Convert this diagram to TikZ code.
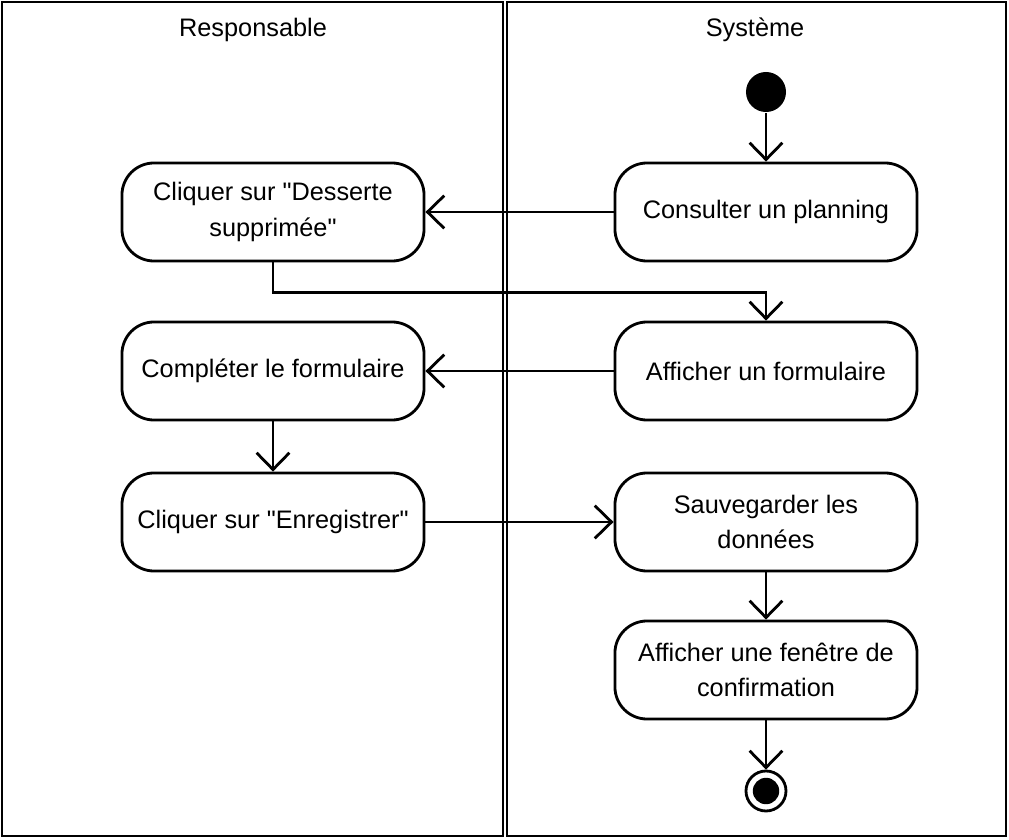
\documentclass[tikz,border=0pt]{standalone}
\usepackage{fontspec}
\setmainfont{Liberation Sans}
\usetikzlibrary{arrows.meta, positioning}

\begin{document}
\begin{tikzpicture}[x=0.025cm, y=-0.025cm, line width=2pt,
    font=\fontsize{18}{25}\selectfont,
    action/.style={draw, rounded corners=0.8cm, minimum width=7.55cm, minimum height=2.45cm, align=center, inner sep=0pt},
    flow/.style={-{Straight Barb[length=0.42cm, width=0.82cm, line width=2pt]}}]
  \useasboundingbox (0,0) rectangle (1009,840);
  \draw (2,2) rectangle (503,836);
  \draw (507,2) rectangle (1006,836);
  \node (resp) at (253,30) {Responsable};
  \node (sys) at (755,30) {Système};

  \node[circle, fill, minimum size=1cm, inner sep=0pt] (debut) at (766,92) {};
  \node[action] (consult) at (766,212) {Consulter un planning};
  \node[action] (desserte) at (273,212) {Cliquer sur \textquotedbl Desserte\\supprimée\textquotedbl};
  \node[action] (formaff) at (766,371) {Afficher un formulaire};
  \node[action] (complete) at (273,371) {Compléter le formulaire};
  \node[action] (enreg) at (273,522) {Cliquer sur \textquotedbl Enregistrer\textquotedbl};
  \node[action] (sauve) at (766,522) {Sauvegarder les\\données};
  \node[action] (confirm) at (766,670) {Afficher une fenêtre de\\confirmation};
  \node[circle, draw, minimum size=1cm, inner sep=0pt] (fin) at (766,791) {};
  \fill (fin) circle (0.33cm);

  \draw[flow] (debut) -- (consult);
  \draw[flow] (consult) -- (desserte);
  \draw[flow] (desserte.south) -- ++(0,30) -| (formaff.north);
  \draw[flow] (formaff) -- (complete);
  \draw[flow] (complete) -- (enreg);
  \draw[flow] (enreg) -- (sauve);
  \draw[flow] (sauve) -- (confirm);
  \draw[flow] (confirm) -- (fin);
\end{tikzpicture}
\end{document}
